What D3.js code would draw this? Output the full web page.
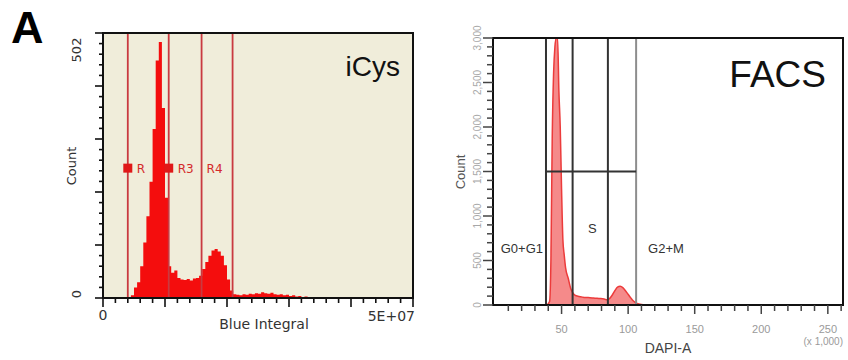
<!DOCTYPE html>
<html>
<head>
<meta charset="utf-8">
<script src="https://cdn.jsdelivr.net/npm/d3@7"></script>
<style>
  html, body { margin: 0; padding: 0; background: #fff; }
  svg { display: block; }
</style>
</head>
<body>
<svg id="chart" width="848" height="360"></svg>
<script>
// iCys vs FACS DNA content histograms

// ---------- data ----------
// iCys: bin start (Blue Integral, x 1E+06), bin width 0.5
const icysBinStart = [4.5, 5.0, 5.5, 6.0, 6.5, 7.0, 7.5, 8.0, 8.5, 9.0, 9.5, 10.0, 10.5, 11.0, 11.5,
  12.0, 12.5, 13.0, 13.5, 14.0, 14.5, 15.0, 15.5, 16.0, 16.5, 17.0, 17.5, 18.0, 18.5, 19.0, 19.5,
  20.0, 20.5, 21.0, 21.5, 22.0, 22.5, 23.0, 23.5, 24.0, 24.5, 25.0, 25.5, 26.0, 26.5, 27.0, 27.5,
  28.0, 28.5, 29.0, 29.5, 30.0, 30.5, 31.0, 31.5, 32.0, 32.5, 33.0, 33.5, 34.0];
const icysCounts = [5, 20, 30, 60, 105, 155, 220, 320, 450, 485, 360, 190, 60, 48, 52,
  38, 35, 34, 36, 33, 37, 38, 42, 55, 68, 80, 90, 93, 88, 80, 62,
  35, 14, 7, 6, 5, 7, 6, 8, 7, 9, 8, 11, 9, 8, 10, 7,
  6, 7, 5, 6, 4, 5, 3, 4, 2, 3, 2, 2, 1];
const icysGates = [4.0, 10.6, 15.9, 20.9];
const icysGateLabels = ["R", "R3", "R4"];
const icysXTicks = ["0", "5E+07"];
const icysYTicks = ["0", "502"];

// FACS: DAPI-A (x 1,000) vs count
const facsDapi = [39, 41, 42, 43, 44, 45, 46, 47, 48, 49, 50, 51, 52, 53, 55, 57, 58.5, 60,
  63, 66, 70, 74, 78, 82, 84, 86, 88, 90, 92, 94, 96, 98, 100, 102, 104, 106, 108, 110, 113];
const facsCounts = [0, 40, 500, 1900, 2600, 2900, 3000, 3000, 2400, 2000, 1300, 730, 560, 420, 300, 180, 135, 110,
  95, 88, 84, 80, 74, 68, 58, 72, 110, 160, 200, 210, 195, 160, 120, 80, 45, 22, 12, 5, 0];
const facsGates = [38.3, 58.3, 84.8, 106];
const facsGateLevel = 1500;
const facsGateLabels = ["G0+G1", "S", "G2+M"];
const facsXTicks = [50, 100, 150, 200, 250];
const facsYTicks = [0, 500, 1000, 1500, 2000, 2500, 3000];

const svg = d3.select("#chart");

// panel letter
svg.append("text")
  .attr("x", 11).attr("y", 43)
  .attr("font-family", "Liberation Sans, Arial, sans-serif")
  .attr("font-weight", "bold").attr("font-size", 45)
  .attr("fill", "#000")
  .text("A");

// ---------- left: iCys ----------
(function () {
  const x = d3.scaleLinear().domain([0, 50]).range([103, 413]);
  const y = d3.scaleLinear().domain([0, 502]).range([298, 33]);
  const font = "DejaVu Sans, Verdana, sans-serif";

  svg.append("rect")
    .attr("x", 103).attr("y", 33).attr("width", 310).attr("height", 265)
    .attr("fill", "#f0edda");

  const pts = icysBinStart.map((b, i) => ({ x: b, c: icysCounts[i] }));
  pts.push({ x: icysBinStart[icysBinStart.length - 1] + 0.5, c: 0 });

  const area = d3.area()
    .x(d => x(d.x))
    .y0(y(0))
    .y1(d => y(d.c))
    .curve(d3.curveStepAfter);

  svg.append("path")
    .datum(pts)
    .attr("d", area)
    .attr("fill", "#f40d0d");

  // gates
  svg.append("g")
    .selectAll("line")
    .data(icysGates)
    .join("line")
    .attr("x1", d => x(d)).attr("x2", d => x(d))
    .attr("y1", y(502)).attr("y2", y(0))
    .attr("stroke", "#c93a40").attr("stroke-width", 1.8);

  const labelCount = 246;
  const gl = svg.append("g");
  gl.selectAll("rect")
    .data(icysGates.slice(0, 2))
    .join("rect")
    .attr("x", d => x(d) - 4.5).attr("y", y(labelCount) - 4.5)
    .attr("width", 9).attr("height", 9)
    .attr("fill", "#e01818");
  gl.selectAll("text")
    .data(icysGateLabels)
    .join("text")
    .attr("x", (d, i) => x(icysGates[i]) + (i === 2 ? 5 : 9))
    .attr("y", y(labelCount) + 4.5)
    .attr("font-family", font).attr("font-size", 12)
    .attr("fill", "#d42a2a")
    .text(d => d);

  // frame
  svg.append("rect")
    .attr("x", 103).attr("y", 33).attr("width", 310).attr("height", 265)
    .attr("fill", "none").attr("stroke", "#111").attr("stroke-width", 2);

  // x ticks
  const xMinor = d3.range(0, 51, 2);
  const xAxis = svg.append("g").attr("transform", `translate(0,${y(0)})`);
  xAxis.selectAll("line")
    .data(xMinor)
    .join("line")
    .attr("x1", d => x(d)).attr("x2", d => x(d))
    .attr("y1", 0).attr("y2", d => d % 10 === 0 ? 9 : 5)
    .attr("stroke", "#111").attr("stroke-width", 1.6);

  // y ticks
  const yMinor = d3.range(0, 26).map(i => i * 502 / 25);
  const yAxis = svg.append("g").attr("transform", `translate(${x(0)},0)`);
  yAxis.selectAll("line")
    .data(yMinor)
    .join("line")
    .attr("x1", (d, i) => i % 5 === 0 ? -8 : -4).attr("x2", 0)
    .attr("y1", d => y(d)).attr("y2", d => y(d))
    .attr("stroke", "#111").attr("stroke-width", 1.6);

  // tick labels
  svg.append("text")
    .attr("x", x(0)).attr("y", 320)
    .attr("text-anchor", "middle")
    .attr("font-family", font).attr("font-size", 14).attr("fill", "#333")
    .text(icysXTicks[0]);
  svg.append("text")
    .attr("x", 415).attr("y", 321)
    .attr("text-anchor", "end")
    .attr("font-family", font).attr("font-size", 14).attr("fill", "#333")
    .text(icysXTicks[1]);
  svg.append("text")
    .attr("x", 264).attr("y", 329)
    .attr("text-anchor", "middle")
    .attr("font-family", font).attr("font-size", 14).attr("fill", "#333")
    .text("Blue Integral");

  [[icysYTicks[0], 294], [icysYTicks[1], 50]].forEach(([t, cy]) => {
    svg.append("text")
      .attr("transform", `translate(81,${cy}) rotate(-90)`)
      .attr("text-anchor", "middle")
      .attr("font-family", font).attr("font-size", 13).attr("fill", "#333")
      .text(t);
  });
  svg.append("text")
    .attr("transform", `translate(76,166) rotate(-90)`)
    .attr("text-anchor", "middle")
    .attr("font-family", font).attr("font-size", 13).attr("fill", "#333")
    .text("Count");

  svg.append("text")
    .attr("x", 400).attr("y", 76)
    .attr("text-anchor", "end")
    .attr("font-family", "Liberation Sans, Arial, sans-serif")
    .attr("font-size", 28).attr("fill", "#111")
    .text("iCys");
})();

// ---------- right: FACS ----------
(function () {
  const x = d3.scaleLinear().domain([0, 262.144]).range([495, 844]);
  const y = d3.scaleLinear().domain([0, 3000]).range([305, 38]);
  const font = "Liberation Sans, Arial, sans-serif";

  const pts = facsDapi.map((d, i) => ({ x: d, c: facsCounts[i] }));

  const area = d3.area()
    .x(d => x(d.x))
    .y0(y(0))
    .y1(d => y(d.c))
    .curve(d3.curveMonotoneX);

  svg.append("path")
    .datum(pts)
    .attr("d", area)
    .attr("fill", "#f58a8a");
  svg.append("path")
    .datum(pts)
    .attr("d", area.lineY1())
    .attr("fill", "none")
    .attr("stroke", "#ec3b3b").attr("stroke-width", 1.5);

  // gates
  svg.append("g")
    .selectAll("line")
    .data(facsGates)
    .join("line")
    .attr("x1", d => x(d)).attr("x2", d => x(d))
    .attr("y1", y(3000)).attr("y2", y(0))
    .attr("stroke", (d, i) => i === 3 ? "#8d8d8d" : "#333")
    .attr("stroke-width", 2);
  svg.append("line")
    .attr("x1", x(facsGates[0])).attr("x2", x(facsGates[3]))
    .attr("y1", y(facsGateLevel)).attr("y2", y(facsGateLevel))
    .attr("stroke", "#333").attr("stroke-width", 2);

  // frame
  svg.append("rect")
    .attr("x", 493).attr("y", 38).attr("width", 350).attr("height", 267)
    .attr("fill", "none").attr("stroke", "#111").attr("stroke-width", 2);

  // x ticks
  const xMinor = d3.range(10, 261, 10);
  svg.append("g").attr("transform", `translate(0,${y(0)})`)
    .selectAll("line")
    .data(xMinor)
    .join("line")
    .attr("x1", d => x(d)).attr("x2", d => x(d))
    .attr("y1", 0).attr("y2", d => d % 50 === 0 ? 9 : 6)
    .attr("stroke", "#444").attr("stroke-width", 1.5);

  svg.append("g")
    .selectAll("text")
    .data(facsXTicks)
    .join("text")
    .attr("x", d => x(d)).attr("y", 333)
    .attr("text-anchor", "middle")
    .attr("font-family", font).attr("font-size", 11).attr("fill", "#9a9a9a")
    .text(d => d);

  // y ticks
  const yMinor = d3.range(0, 3001, 100);
  svg.append("g").attr("transform", `translate(493,0)`)
    .selectAll("line")
    .data(yMinor)
    .join("line")
    .attr("x1", d => d % 500 === 0 ? -10 : -6).attr("x2", 0)
    .attr("y1", d => y(d)).attr("y2", d => y(d))
    .attr("stroke", "#444").attr("stroke-width", 1.5);

  svg.append("g")
    .selectAll("text")
    .data(facsYTicks)
    .join("text")
    .attr("transform", d => `translate(481,${y(d)}) rotate(-90)`)
    .attr("text-anchor", "middle")
    .attr("font-family", font).attr("font-size", 10).attr("fill", "#a8a8a8")
    .text(d => d3.format(",")(d));

  svg.append("text")
    .attr("transform", `translate(465,172) rotate(-90)`)
    .attr("text-anchor", "middle")
    .attr("font-family", font).attr("font-size", 13).attr("fill", "#555")
    .text("Count");

  svg.append("text")
    .attr("x", 668).attr("y", 353)
    .attr("text-anchor", "middle")
    .attr("font-family", font).attr("font-size", 14).attr("fill", "#444")
    .text("DAPI-A");
  svg.append("text")
    .attr("x", 843).attr("y", 345)
    .attr("text-anchor", "end")
    .attr("font-family", font).attr("font-size", 10).attr("fill", "#9a9a9a")
    .text("(x 1,000)");

  // gate labels
  svg.append("text")
    .attr("x", x(facsGates[0]) - 3).attr("y", 253)
    .attr("text-anchor", "end")
    .attr("font-family", font).attr("font-size", 13).attr("fill", "#333")
    .text(facsGateLabels[0]);
  svg.append("text")
    .attr("x", (x(facsGates[1]) + x(facsGates[2])) / 2 + 2).attr("y", 233)
    .attr("text-anchor", "middle")
    .attr("font-family", font).attr("font-size", 13).attr("fill", "#333")
    .text(facsGateLabels[1]);
  svg.append("text")
    .attr("x", x(facsGates[3]) + 12).attr("y", 253)
    .attr("font-family", font).attr("font-size", 13).attr("fill", "#333")
    .text(facsGateLabels[2]);

  svg.append("text")
    .attr("x", 826).attr("y", 87)
    .attr("text-anchor", "end")
    .attr("font-family", font).attr("font-size", 37).attr("fill", "#111")
    .text("FACS");
})();
</script>
</body>
</html>
